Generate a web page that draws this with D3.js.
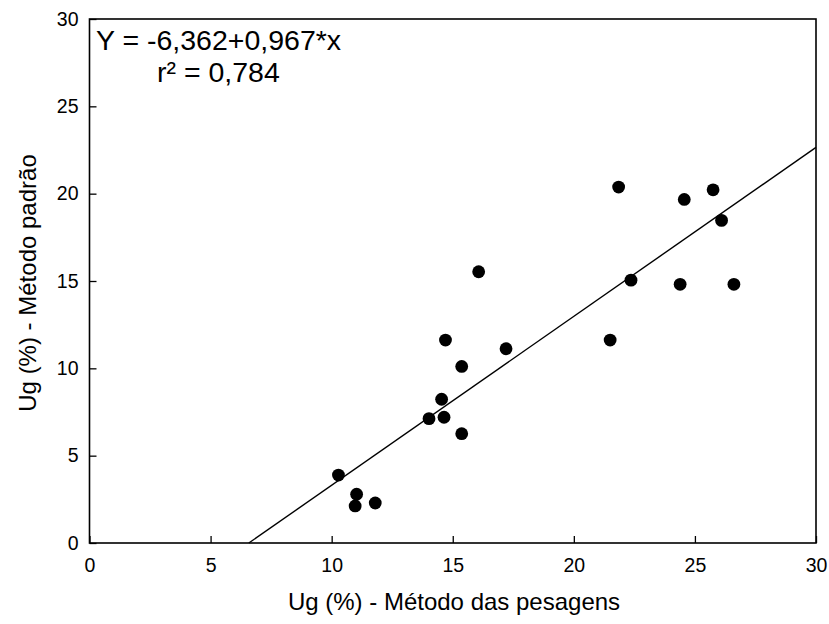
<!DOCTYPE html>
<html>
<head>
<meta charset="utf-8">
<script src="https://cdn.jsdelivr.net/npm/d3@7"></script>
<style>
  body { margin: 0; background: #fff; }
  text { font-family: "Liberation Sans", Arial, sans-serif; fill: #000; }
  .axis path { display: none; }
  .axis line { stroke: #000; stroke-width: 1.3px; }
  .axis text { font-size: 19.5px; font-family: "Liberation Sans", Arial, sans-serif; }
</style>
</head>
<body>
<svg id="chart"></svg>
<script>
// data
var pesagens = [10.28, 10.97, 11.03, 11.80, 14.02, 14.54, 14.64, 14.70, 15.37, 15.37,
                16.07, 17.20, 21.50, 21.85, 22.36, 24.39, 24.56, 25.75, 26.10, 26.61];
var padrao   = [3.89, 2.12, 2.79, 2.29, 7.12, 8.23, 7.20, 11.62, 10.11, 6.26,
                15.53, 11.12, 11.62, 20.38, 15.05, 14.81, 19.67, 20.22, 18.47, 14.81];
var xTicks = [0, 5, 10, 15, 20, 25, 30];
var yTicks = [0, 5, 10, 15, 20, 25, 30];
var intercept = -6.362, slope = 0.967;
var equationText = "Y = -6,362+0,967*x";
var r2Text = "r² = 0,784";

// set the dimensions and margins of the graph
var margin = { left: 89.5, right: 13, top: 19, bottom: 81 },
    width = 829 - margin.left - margin.right,
    height = 624 - margin.top - margin.bottom;

var svg = d3.select("#chart")
  .attr("width", 829)
  .attr("height", 624);
var g = svg.append("g")
  .attr("transform", "translate(" + margin.left + "," + margin.top + ")");

// Scales
var x = d3.scaleLinear().domain([0, 30]).range([0, width]);
var y = d3.scaleLinear().domain([0, 30]).range([height, 0]);

// Axes (ticks pointing inward)
g.append("g")
  .attr("class", "axis")
  .attr("transform", "translate(0," + height + ")")
  .call(d3.axisBottom(x).tickValues(xTicks).tickSizeInner(-7).tickSizeOuter(0).tickPadding(15));

g.append("g")
  .attr("class", "axis")
  .call(d3.axisLeft(y).tickValues(yTicks).tickSizeInner(-7).tickSizeOuter(0).tickPadding(11));

// frame
g.append("rect")
  .attr("width", width)
  .attr("height", height)
  .attr("fill", "none")
  .attr("stroke", "#000")
  .attr("stroke-width", 1.6);

// regression line from where it crosses y = 0 to the right edge
var x0 = -intercept / slope;
g.append("line")
  .attr("x1", x(x0)).attr("y1", y(intercept + slope * x0))
  .attr("x2", x(30)).attr("y2", y(intercept + slope * 30))
  .attr("stroke", "#000")
  .attr("stroke-width", 1.4);

// points
g.selectAll(".dot")
  .data(pesagens.map(function(d, i) { return [d, padrao[i]]; }))
  .enter().append("circle")
  .attr("class", "dot")
  .attr("cx", function(d) { return x(d[0]); })
  .attr("cy", function(d) { return y(d[1]); })
  .attr("r", 6.4)
  .attr("fill", "#000");

// equation
svg.append("text")
  .attr("x", 96)
  .attr("y", 50)
  .style("font-size", "28.5px")
  .text(equationText);
svg.append("text")
  .attr("x", 157)
  .attr("y", 82)
  .style("font-size", "28.5px")
  .text(r2Text);

// axis titles
svg.append("text")
  .attr("x", 454)
  .attr("y", 610)
  .attr("text-anchor", "middle")
  .style("font-size", "24px")
  .text("Ug (%) - Método das pesagens");

svg.append("text")
  .attr("transform", "translate(36,283) rotate(-90)")
  .attr("text-anchor", "middle")
  .style("font-size", "24px")
  .text("Ug (%) - Método padrão");
</script>
</body>
</html>
